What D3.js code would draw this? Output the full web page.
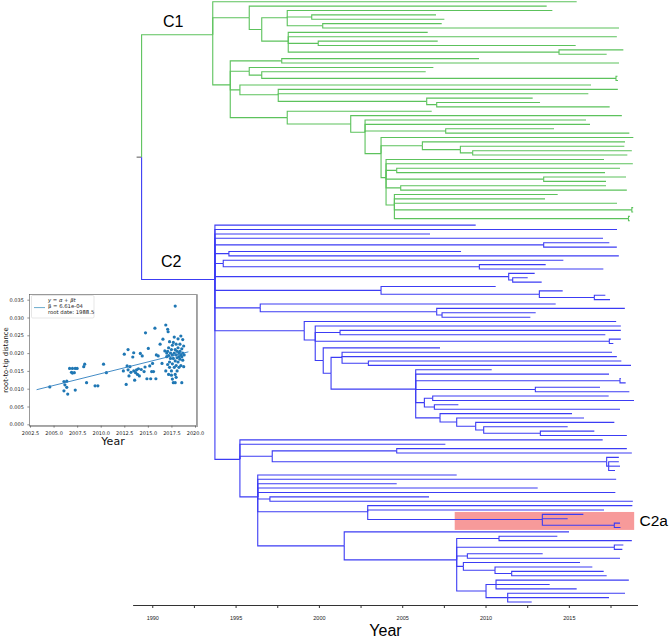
<!DOCTYPE html>
<html><head><meta charset="utf-8">
<script src="https://cdn.jsdelivr.net/npm/d3@7"></script>
<style>body{margin:0;background:#fff}svg{display:block}</style>
</head><body>
<svg id="chart" width="669" height="638"></svg>
<script>
// ---------------- DATA ----------------
// Tree: internal node = [nodeDate, ...children]; leaf = tipDate (decimal years)
const rootStart = 1989.06;
const rootDate = 1989.36;
const c1Tree = [1993.63,
  2015.47,
  [1995.82, 2013.67,
    [1996.57,
      [1998.10, 2014.01, [1999.57, 2007.03, 2007.53], [2000.23, 2007.37, 2018.01]],
      [1998.16, 2006.53, 2017.88, [1999.96, 2007.13, 2015.41], [2014.41, 2018.27, 2017.27]]
    ]
  ],
  [1994.68,
    [1997.77, 2009.61, 2018.01],
    [1995.82, 2006.87, [1996.57, 2006.41, [2017.83, 2017.92, 2017.95]]],
    [1995.26, 2016.33, [1997.56, 2017.94, 2016.17, [2006.47, 2012.83, [2007.07, 2013.27, 2017.45]]]],
    [1998.10, 2006.77,
      [2001.91, 2018.18,
        [2002.77, 2016.03, 2016.27, [2007.61, 2014.11, 2018.63],
          [2003.73, 2018.87,
            [2006.21, 2018.37, [2008.49, 2018.33, [2009.23, 2018.78, 2018.51]]],
            [2004.03, 2017.11, 2018.84, [2004.67, 2018.07, 2017.17], [2013.49, 2018.43, 2017.23],
              [2004.91, 2017.23, 2018.48],
              [2004.53, 2014.33, 2013.57, 2017.89, [2018.78, 2018.86, 2018.86], [2018.58, 2018.66, 2018.66]]
            ]
          ]
        ]
      ]
    ]
  ]
];
const c2Tree = [1993.76,
  2009.41, 2017.89, 2006.67, 2017.05,
  [2013.49, 2017.43, 2017.88],
  [1994.60, 2008.53, 2018.00],
  [1994.26, 2014.67, [2009.63, 2013.61, 2017.07]],
  [2011.39, 2012.95, [2011.63, 2012.53, 2013.37]],
  [2003.73, 2010.61, [2013.23, 2014.63, [2016.53, 2017.19, 2017.47]]],
  [1996.48, 2014.21, [2007.07, 2018.36, [2007.39, 2013.01, 2012.69]]],
  [1999.12, 2017.84,
    [1999.78, 2018.12, [2001.27, 2018.12, 2017.19], [2017.43, 2018.12, 2017.67],
      [2000.26, 2007.27,
        [2000.73,
          [2001.39, 2017.59, 2017.88, [2002.97, 2018.15, 2018.73]],
          [2005.81, 2010.37, 2017.41, [2018.07, 2018.12, 2018.41], [2012.99, 2016.87, 2018.63],
            [2006.33, [2006.83, 2017.39, 2018.91], [2006.93, 2008.37, 2018.07]],
            [2007.27, 2015.19, [2008.27, 2015.91, [2009.41, 2017.73, [2009.89, 2014.93, [2013.29, 2016.53, 2018.48]]]]]
          ]
        ]
      ]
    ]
  ],
  [1995.26, 2017.03, 2007.59,
    [1997.20, [2004.67, 2018.48, 2018.78], [2017.27, 2018.00, [2017.39, 2018.00, 2018.07, 2017.77]]],
    [1996.33, 2008.27, 2017.84, 2004.67, 2013.13, 2017.79,
      [1997.06, 2006.61, 2018.84],
      [2002.93, 2018.81, 2017.11, [2013.41, 2015.87, 2014.93, [2017.73, 2018.07, 2018.10]]],
      [2001.52, 2015.01,
        [2008.27, [2010.81, 2014.31, 2018.78], [2017.73, 2018.27, 2018.21], [2008.91, 2013.43, 2018.07],
          [2008.67, 2015.67, [2010.57, 2016.41, [2011.57, 2017.09, 2017.27]]],
          [2010.03, [2010.63, 2018.60, 2013.85, 2015.47], [2011.33, 2018.37, 2017.41, 2012.77]]
        ]
      ]
    ]
  ]
];
const cladeLabels = ["C1", "C2", "C2a"];
const axisTicks = [1990, 1992.5, 1995, 1997.5, 2000, 2002.5, 2005, 2007.5, 2010, 2012.5, 2015, 2017.5];
const c2aYears = [2008.15, 2018.92];      // highlighted band (years)
const c2aTips = [117, 120];               // tip indices covered by band

// Inset: root-to-tip regression
const rttPoints = [
  [2004.6,0.0105],[2006.1,0.0120],[2006.2,0.0111],[2006.4,0.0104],[2006.1,0.0094],[2006.5,0.0085],[2006.4,0.0121],
  [2006.7,0.0157],[2006.9,0.0146],[2007.0,0.0157],[2007.0,0.0144],[2007.3,0.0157],[2007.2,0.0145],[2007.3,0.0096],
  [2007.5,0.0157],[2008.2,0.0162],[2008.3,0.0169],[2008.5,0.0117],[2009.4,0.0108],[2009.7,0.0108],[2010.3,0.0169],[2010.6,0.0145],
  [2012.4,0.0150],[2012.5,0.0197],[2012.7,0.0112],[2012.8,0.0164],[2012.9,0.0210],[2012.9,0.0153],[2013.0,0.0136],[2013.1,0.0162],
  [2013.2,0.0146],[2013.4,0.0189],[2013.5,0.0201],[2013.5,0.0150],[2013.6,0.0124],[2013.7,0.0145],[2013.8,0.0153],[2013.9,0.0140],
  [2014.0,0.0156],[2014.1,0.0136],[2014.2,0.0199],[2014.3,0.0154],[2014.4,0.0192],[2014.6,0.0148],[2014.7,0.0161],[2014.75,0.0257],
  [2014.9,0.0128],[2015.05,0.0213],[2015.2,0.0164],[2015.3,0.0128],[2015.4,0.0148],[2015.5,0.0171],[2015.6,0.0148],[2015.75,0.0270],
  [2015.85,0.0128],[2015.9,0.0195],[2016.1,0.0192],[2016.3,0.0225],[2016.5,0.0171],[2016.6,0.0239],[2016.8,0.0206],
  [2016.9,0.0279],[2017.1,0.0267],[2017.15,0.0260],[2017.9,0.0332],
  [2017.0,0.0200],[2017.0,0.0190],[2017.1,0.0205],[2017.1,0.0168],[2017.2,0.0193],[2017.2,0.0215],[2017.3,0.0175],[2017.3,0.0160],
  [2017.3,0.0232],[2017.4,0.0200],[2017.4,0.0185],[2017.5,0.0210],[2017.5,0.0138],[2017.5,0.0150],[2017.6,0.0222],[2017.6,0.0195],
  [2017.6,0.0170],[2017.7,0.0117],[2017.7,0.0230],[2017.7,0.0185],[2017.8,0.0200],[2017.8,0.0160],[2017.8,0.0245],[2017.9,0.0117],
  [2017.9,0.0210],[2017.9,0.0178],[2017.9,0.0140],[2018.0,0.0225],[2018.0,0.0195],[2018.0,0.0165],[2018.1,0.0205],[2018.1,0.0187],
  [2018.1,0.0150],[2018.2,0.0240],[2018.2,0.0215],[2018.2,0.0175],[2018.3,0.0200],[2018.3,0.0190],[2018.3,0.0160],[2018.4,0.0225],
  [2018.4,0.0205],[2018.4,0.0183],[2018.5,0.0248],[2018.5,0.0195],[2018.5,0.0165],[2018.6,0.0117],[2018.6,0.0212],[2018.6,0.0190],
  [2018.7,0.0238],[2018.7,0.0200],[2018.7,0.0180],[2018.8,0.0162],[2018.8,0.0220],[2018.85,0.0195],[2017.6,0.0127],[2018.0,0.0132],
  [2016.9,0.0150],[2017.2,0.0140]
];
const rttSlope = 6.61e-4;
const rttRoot = 1988.5;
const rttLineYears = [2003.2, 2019.3];
const rttXTicks = [2002.5, 2005.0, 2007.5, 2010.0, 2012.5, 2015.0, 2017.5, 2020.0];
const rttYTicks = [0.000, 0.005, 0.010, 0.015, 0.020, 0.025, 0.030, 0.035];
const legendLines = ["y = α + βt", "β = 6.61e-04", "root date: 1988.5"];

// ---------------- DRAW ----------------
const svg = d3.select("#chart");
const GREEN = "#5cc25c", BLUE = "#3c3cf4";

function toNode(a, clade){
  if (Array.isArray(a)) return {date:a[0], clade, children:a.slice(1).map(c=>toNode(c, clade))};
  return {date:a, clade};
}
const rootObj = {date: rootDate, clade: "root", children: [toNode(c1Tree, "C1"), toNode(c2Tree, "C2")]};
const root = d3.hierarchy(rootObj);
const leaves = root.leaves();
leaves.forEach((l,i)=> l.idx = i);

const x = d3.scaleLinear().domain([1988.82, 2019.12]).range([132.6, 637.5]);
const y = d3.scaleLinear().domain([0, leaves.length-1]).range([1.7, 602]);

root.eachAfter(n=>{
  if (n.children) n.yv = d3.mean(n.children, c=>c.yv);
  else n.yv = y(n.idx);
});

// C2a highlight band
svg.append("rect")
  .attr("x", x(c2aYears[0])).attr("width", x(c2aYears[1]) - x(c2aYears[0]))
  .attr("y", y(c2aTips[0]) - 2.4).attr("height", y(c2aTips[1]) - y(c2aTips[0]) + 4.8)
  .attr("fill", "#f79a9a");

const g = svg.append("g").attr("fill","none").attr("stroke-width",1.1);
// root stub
g.append("line").attr("x1", x(rootStart)).attr("x2", x(rootDate))
  .attr("y1", root.yv).attr("y2", root.yv).attr("stroke","#666");

root.each(n=>{
  if (!n.children) return;
  n.children.forEach(c=>{
    const col = c.data.clade === "C1" ? GREEN : BLUE;
    g.append("path")
      .attr("d", `M${x(n.data.date)},${n.yv}V${c.yv}H${x(c.data.date)}`)
      .attr("stroke", col);
  });
});

// Axis
const axis = d3.axisBottom(x).tickValues(axisTicks).tickSize(3).tickSizeOuter(0)
  .tickFormat(d => d % 5 === 0 ? d3.format("d")(d) : "");
const ax = svg.append("g").attr("transform","translate(0,605)").call(axis);
ax.select(".domain").attr("stroke","#333");
ax.selectAll(".tick line").attr("stroke","#333");
ax.selectAll(".tick text").attr("font-size","5.5px").attr("font-family","Liberation Sans, Arial, sans-serif")
  .attr("fill","#222").attr("dy","1.7em");
svg.append("text").attr("x", 385.5).attr("y", 636).attr("text-anchor","middle")
  .attr("font-family","Liberation Sans, Arial, sans-serif").attr("font-size","16px").text("Year");

// Clade labels
const c1 = root.children[0], c2 = root.children[1];
svg.append("text").attr("x", 163).attr("y", c1.yv - 7.7).attr("font-family","Liberation Sans, Arial, sans-serif")
  .attr("font-size","16px").text(cladeLabels[0]);
svg.append("text").attr("x", 161).attr("y", c2.yv - 13).attr("font-family","Liberation Sans, Arial, sans-serif")
  .attr("font-size","16px").text(cladeLabels[1]);
svg.append("text").attr("x", 639.5).attr("y", (y(c2aTips[0]) + y(c2aTips[1]))/2 + 5.5)
  .attr("font-family","Liberation Sans, Arial, sans-serif").attr("font-size","15.5px").text(cladeLabels[2]);

// ---------------- INSET ----------------
const ix = d3.scaleLinear().domain([2002.5, 2020.0]).range([30, 195]);
const iy = d3.scaleLinear().domain([0, 0.035]).range([424.3, 299.7]);
const fx0 = ix(2002.43), fx1 = ix(2020.18), fy0 = iy(0.0365), fy1 = iy(-0.0004);
const ins = svg.append("g");
ins.append("rect").attr("x", fx0).attr("y", fy0).attr("width", fx1-fx0).attr("height", fy1-fy0)
  .attr("fill","#fff").attr("stroke","#555").attr("stroke-width",0.6);
ins.append("path").attr("d", `M${fx1+0.6},${fy0}V${fy1+0.6}H${fx0}`).attr("fill","none")
  .attr("stroke","#aaa").attr("stroke-width",1.4);

const IFONT = "DejaVu Sans, sans-serif";
const xa = ins.append("g").attr("transform",`translate(0,${fy1})`)
  .call(d3.axisBottom(ix).tickValues(rttXTicks).tickSize(2).tickSizeOuter(0).tickFormat(d3.format(".1f")));
const ya = ins.append("g").attr("transform",`translate(${fx0},0)`)
  .call(d3.axisLeft(iy).tickValues(rttYTicks).tickSize(2).tickSizeOuter(0).tickFormat(d3.format(".3f")));
[xa, ya].forEach(a=>{
  a.select(".domain").remove();
  a.selectAll(".tick line").attr("stroke","#444").attr("stroke-width",0.6);
  a.selectAll(".tick text").attr("font-size","5px").attr("font-family",IFONT).attr("fill","#222");
});
xa.selectAll(".tick text").attr("dy","0.9em");
ya.selectAll(".tick text").attr("dx","-0.1em");

ins.append("g").selectAll("circle").data(rttPoints).join("circle")
  .attr("cx", d=>ix(d[0])).attr("cy", d=>iy(d[1])).attr("r", 1.6).attr("fill","#1f77b4");

ins.append("line")
  .attr("x1", ix(rttLineYears[0])).attr("y1", iy(rttSlope*(rttLineYears[0]-rttRoot)))
  .attr("x2", ix(rttLineYears[1])).attr("y2", iy(rttSlope*(rttLineYears[1]-rttRoot)))
  .attr("stroke","#2f7fbf").attr("stroke-width",0.9);

// legend
const lg = ins.append("g");
lg.append("rect").attr("x", 31.5).attr("y", 295.5).attr("width", 62.5).attr("height", 22.5).attr("rx",1.2)
  .attr("fill","#fff").attr("fill-opacity",0.85).attr("stroke","#ccc").attr("stroke-width",0.5);
lg.append("line").attr("x1",34).attr("x2",45).attr("y1",307.6).attr("y2",307.6)
  .attr("stroke","#6aaccd").attr("stroke-width",1);
legendLines.forEach((t,i)=>{
  lg.append("text").attr("x", 48).attr("y", 301.5 + i*6.2).attr("font-size","5.3px")
    .attr("font-family",IFONT).attr("font-style", i===0 ? "italic" : "normal").attr("fill","#222").text(t);
});

ins.append("text").attr("transform",`translate(7.5,${(fy0+fy1)/2}) rotate(-90)`)
  .attr("text-anchor","middle").attr("font-size","6.8px").attr("font-family",IFONT).attr("fill","#111")
  .text("root-to-tip distance");
ins.append("text").attr("x", (fx0+fx1)/2).attr("y", 445).attr("text-anchor","middle")
  .attr("font-size","11px").attr("font-family",IFONT).attr("fill","#111").text("Year");
</script>
</body></html>
